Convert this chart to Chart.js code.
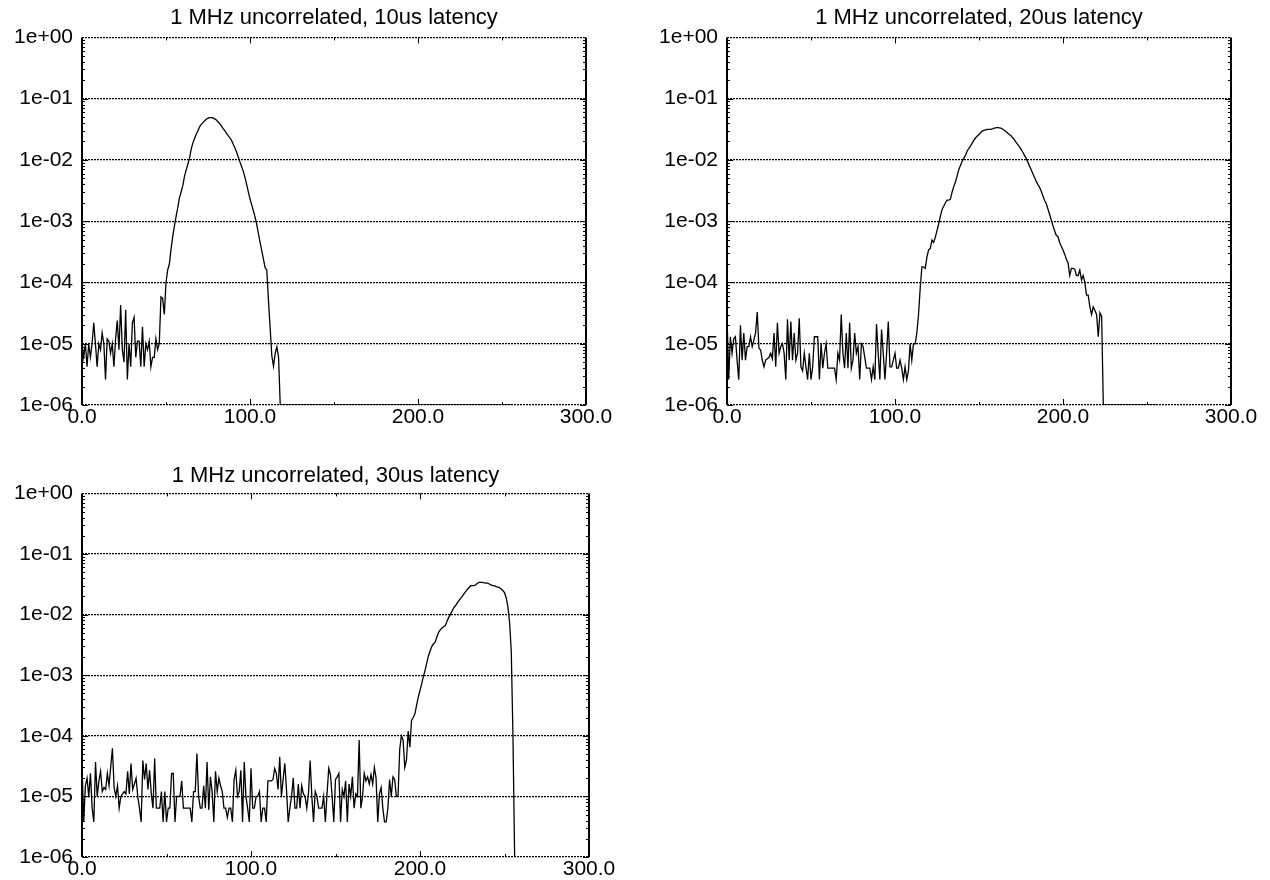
<!DOCTYPE html>
<html>
<head>
<meta charset="utf-8">
<title>1 MHz uncorrelated latency</title>
<script src="https://cdn.jsdelivr.net/npm/chart.js@4.4.1/dist/chart.umd.min.js"></script>
<style>
  html, body { margin: 0; padding: 0; background: #fff; }
  body { width: 1270px; height: 880px; position: relative; overflow: hidden; }
  canvas { position: absolute; }
</style>
</head>
<body>
<canvas id="c10" width="635" height="440" style="left:0;top:0"></canvas>
<canvas id="c20" width="635" height="440" style="left:635px;top:0"></canvas>
<canvas id="c30" width="635" height="440" style="left:0;top:440px"></canvas>
<script>
// axis ticks
const xTickValues = [0, 100, 200, 300];
const xTickLabels = ['0.0', '100.0', '200.0', '300.0'];
const yTickValues = [1e-6, 1e-5, 1e-4, 1e-3, 1e-2, 1e-1, 1];
const yTickLabels = ['1e-06', '1e-05', '1e-04', '1e-03', '1e-02', '1e-01', '1e+00'];

const titles = ['1 MHz uncorrelated, 10us latency', '1 MHz uncorrelated, 20us latency', '1 MHz uncorrelated, 30us latency'];

// histogram bins run 0..lastBin, empty bins sit on the 1e-06 floor
const lastBin = 256;
const floorValue = 1e-6;

// 10us latency, bins 0..118
const lat10 = [
  1.0e-5, 6e-6, 1.0e-5, 4.2e-6, 1.0e-5, 6e-6, 1.0e-5, 2.2e-5, 1.0e-5, 4.2e-6,
  1.0e-5, 8e-6, 1.5e-5, 1.0e-5, 2.6e-6, 1.2e-5, 1.1e-5, 7e-6, 1.0e-5, 4.2e-6,
  1.2e-5, 2.4e-5, 8e-6, 4.3e-5, 8e-6, 5e-6, 3.6e-5, 2.6e-6, 1.0e-5, 4.2e-6,
  2.2e-5, 2.7e-5, 6e-6, 1.1e-5, 1.1e-5, 4.2e-6, 1.9e-5, 4.2e-6, 1.0e-5, 8e-6,
  1.1e-5, 4.2e-6, 6e-6, 6e-6, 1.2e-5, 8e-6, 1.0e-5, 5.8e-5, 5.5e-5, 3.0e-5,
  1.0e-4, 1.6e-4, 2.0e-4, 3.5e-4, 5.6e-4, 8.3e-4, 1.2e-3, 1.66e-3, 2.4e-3, 3.0e-3,
  3.8e-3, 5.4e-3, 6.8e-3, 8.5e-3, 1.07e-2, 1.5e-2, 1.9e-2, 2.24e-2, 2.63e-2, 3.0e-2,
  3.47e-2, 3.8e-2, 4.07e-2, 4.37e-2, 4.62e-2, 4.8e-2, 4.9e-2, 4.9e-2, 4.84e-2, 4.68e-2,
  4.47e-2, 4.17e-2, 3.9e-2, 3.55e-2, 3.24e-2, 3.0e-2, 2.75e-2, 2.5e-2, 2.3e-2, 2.1e-2,
  1.8e-2, 1.58e-2, 1.35e-2, 1.12e-2, 9.3e-3, 7.8e-3, 6.5e-3, 5.2e-3, 4.0e-3, 3.0e-3,
  2.3e-3, 1.86e-3, 1.48e-3, 1.17e-3, 8.9e-4, 6.3e-4, 4.5e-4, 3.3e-4, 2.4e-4, 1.74e-4,
  1.6e-4, 5e-5, 1.8e-5, 6.3e-6, 4.3e-6, 7e-6, 8.9e-6, 6e-6, 1e-6
];

// 20us latency, bins 0..224
const lat20 = [
  3.0e-5, 2.6e-6, 1.3e-5, 7e-6, 1.2e-5, 1.3e-5, 5.4e-6, 2.6e-6, 2.0e-5, 5.4e-6,
  1.5e-5, 5.4e-6, 9e-6, 9e-6, 1.3e-5, 9e-6, 1.15e-5, 1.5e-5, 3.3e-5, 8.5e-6,
  7.9e-6, 5.4e-6, 4.2e-6, 5.4e-6, 5.7e-6, 6e-6, 7e-6, 5.7e-6, 1.5e-5, 4.2e-6,
  2.2e-5, 7e-6, 9e-6, 1.0e-5, 7e-6, 2.6e-6, 2.5e-5, 5.4e-6, 2.3e-5, 5.4e-6,
  1.5e-5, 5.4e-6, 7e-6, 2.6e-5, 4.2e-6, 3.6e-6, 7e-6, 4.2e-6, 2.6e-6, 7e-6,
  2.6e-6, 4.2e-6, 1.3e-5, 1.3e-5, 1.3e-5, 2.6e-6, 1.0e-5, 4.0e-6, 7e-6, 1.0e-5,
  4.0e-6, 4.0e-6, 4.0e-6, 4.0e-6, 4.0e-6, 2.6e-6, 7e-6, 5.4e-6, 3.0e-5, 7e-6,
  4.0e-6, 1.5e-5, 4.0e-6, 2.2e-5, 4.0e-6, 5.4e-6, 1.5e-5, 7e-6, 9e-6, 2.6e-6,
  1.0e-5, 9e-6, 6e-6, 4.0e-6, 4.0e-6, 4.0e-6, 2.6e-6, 4.2e-6, 2.6e-6, 2.1e-5,
  7e-6, 2.6e-6, 1.7e-5, 7e-6, 2.6e-6, 7e-6, 2.3e-5, 4.2e-6, 4.2e-6, 5.4e-6,
  7e-6, 4.0e-6, 4.0e-6, 5.4e-6, 4.0e-6, 2.6e-6, 4.2e-6, 2.6e-6, 3.6e-6, 1.0e-5,
  5.4e-6, 1.0e-5, 1.0e-5, 1.5e-5, 3.0e-5, 8e-5, 1.8e-4, 1.8e-4, 1.7e-4, 2.6e-4,
  3.4e-4, 3.6e-4, 4.9e-4, 4.5e-4, 5.5e-4, 7e-4, 9e-4, 1.2e-3, 1.55e-3, 1.75e-3,
  2.0e-3, 2.2e-3, 2.2e-3, 2.3e-3, 3.0e-3, 3.7e-3, 4.4e-3, 5.5e-3, 7e-3, 8.2e-3,
  9.5e-3, 1.07e-2, 1.2e-2, 1.4e-2, 1.55e-2, 1.7e-2, 1.9e-2, 2.1e-2, 2.3e-2, 2.45e-2,
  2.6e-2, 2.8e-2, 2.95e-2, 3.05e-2, 3.1e-2, 3.15e-2, 3.15e-2, 3.15e-2, 3.2e-2, 3.3e-2,
  3.35e-2, 3.4e-2, 3.35e-2, 3.3e-2, 3.2e-2, 3.05e-2, 2.9e-2, 2.75e-2, 2.6e-2, 2.5e-2,
  2.3e-2, 2.15e-2, 1.95e-2, 1.8e-2, 1.65e-2, 1.5e-2, 1.35e-2, 1.2e-2, 1.07e-2, 9.3e-3,
  8e-3, 7e-3, 6e-3, 5.2e-3, 4.5e-3, 4.0e-3, 3.6e-3, 3.1e-3, 2.6e-3, 2.2e-3,
  1.95e-3, 1.6e-3, 1.3e-3, 1.05e-3, 8.5e-4, 7e-4, 5.9e-4, 5.6e-4, 4.5e-4, 3.9e-4,
  3.4e-4, 2.9e-4, 2.4e-4, 2.1e-4, 1.3e-4, 1.7e-4, 1.7e-4, 1.65e-4, 1.3e-4, 1.3e-4,
  1.6e-4, 1.1e-4, 1.3e-4, 1.0e-4, 6.2e-5, 6.2e-5, 4e-5, 3e-5, 4e-5, 3.5e-5,
  3.0e-5, 1.3e-5, 3.2e-5, 2.8e-5, 1e-6
];

// 30us latency, bins 0..256
const lat30 = [
  3.5e-5, 3.8e-6, 1.5e-5, 2e-5, 1e-5, 2.4e-5, 6.4e-6, 3.8e-6, 3.7e-5, 1e-5,
  1.8e-5, 2.6e-5, 1.2e-5, 1.4e-5, 1.3e-5, 2.4e-5, 1.5e-5, 3.1e-5, 6.2e-5, 1.4e-5,
  1e-5, 1.5e-5, 6.4e-6, 1e-5, 1.1e-5, 1.2e-5, 1.1e-5, 2.6e-5, 1.1e-5, 3.5e-5,
  1.3e-5, 1.6e-5, 2e-5, 1e-5, 6.4e-6, 3.8e-6, 3.9e-5, 1.9e-5, 3.5e-5, 1.3e-5,
  2.7e-5, 1.1e-5, 6.4e-6, 4.2e-5, 6.4e-6, 6.4e-6, 6.4e-6, 1.2e-5, 3.8e-6, 1.2e-5,
  3.8e-6, 6.4e-6, 6.4e-6, 2.4e-5, 2.4e-5, 3.8e-6, 1e-5, 1e-5, 1e-5, 1.8e-5,
  6.4e-6, 6.4e-6, 6.4e-6, 6.4e-6, 6.4e-6, 3.8e-6, 1.2e-5, 1.2e-5, 5.1e-5, 1e-5,
  6.4e-6, 6.4e-6, 1.5e-5, 6.4e-6, 3.7e-5, 6e-6, 2.1e-5, 1.2e-5, 3.8e-6, 2.6e-5,
  1.2e-5, 2e-5, 1.5e-5, 1.2e-5, 6.4e-6, 6.4e-6, 4.5e-6, 6.4e-6, 6.4e-6, 3.8e-6,
  1.9e-5, 2.7e-5, 1e-5, 1.2e-5, 2.7e-5, 3.8e-6, 3.7e-5, 1e-5, 6.4e-6, 3.8e-6,
  2.9e-5, 6.4e-6, 6.4e-6, 1e-5, 1e-5, 1.2e-5, 3.8e-6, 6.4e-6, 6.4e-6, 3.8e-6,
  1.8e-5, 1.8e-5, 1.8e-5, 1.9e-5, 2.9e-5, 2.4e-5, 1.3e-5, 4.5e-5, 1e-5, 1.9e-5,
  3.5e-5, 1.3e-5, 3.8e-6, 6.4e-6, 1e-5, 2e-5, 6.4e-6, 6.4e-6, 1.6e-5, 6.4e-6,
  1.5e-5, 1.1e-5, 1e-5, 6.4e-6, 1.1e-5, 3.9e-5, 1e-5, 3.8e-6, 1.2e-5, 1e-5,
  6.4e-6, 6.4e-6, 6.4e-6, 1e-5, 3.8e-6, 1.1e-5, 2.9e-5, 2.3e-5, 1e-5, 3.8e-6,
  1.9e-5, 2.1e-5, 2.4e-5, 3.8e-6, 1.3e-5, 1e-5, 1.8e-5, 3.8e-6, 1.6e-5, 1e-5,
  2.1e-5, 6.4e-6, 1.1e-5, 1e-5, 8.5e-5, 6.4e-6, 1e-5, 2.4e-5, 1.8e-5, 2.1e-5,
  1.6e-5, 2.3e-5, 1.6e-5, 3e-5, 2e-5, 3.8e-6, 1.1e-5, 1.4e-5, 6.4e-6, 3.8e-6,
  3.8e-6, 6.4e-6, 1.9e-5, 1e-5, 2.1e-5, 1.9e-5, 1e-5, 1e-5, 6e-5, 1e-4,
  8.5e-5, 3e-5, 4e-5, 1.2e-4, 6.5e-5, 1.8e-4, 2.0e-4, 2.3e-4, 3.2e-4, 4.4e-4,
  5.6e-4, 7.2e-4, 9.5e-4, 1.2e-3, 1.6e-3, 2.1e-3, 2.5e-3, 3e-3, 3.3e-3, 3.5e-3,
  4.3e-3, 5.1e-3, 5.6e-3, 6e-3, 6.3e-3, 6.6e-3, 7.8e-3, 9e-3, 1.0e-2, 1.15e-2,
  1.3e-2, 1.4e-2, 1.55e-2, 1.7e-2, 1.85e-2, 2.0e-2, 2.2e-2, 2.4e-2, 2.6e-2, 2.8e-2,
  3.0e-2, 3.0e-2, 3.0e-2, 3.1e-2, 3.3e-2, 3.4e-2, 3.4e-2, 3.4e-2, 3.35e-2, 3.3e-2,
  3.3e-2, 3.2e-2, 3.1e-2, 3.0e-2, 3.0e-2, 2.9e-2, 2.85e-2, 2.8e-2, 2.65e-2, 2.5e-2,
  2.3e-2, 1.9e-2, 1.35e-2, 7.5e-3, 2.5e-3, 1e-4, 1e-6
];

const fontFamily = "'Liberation Sans', Arial, Helvetica, sans-serif";

// inward tick marks on all four sides plus the solid right-hand axis
const frameTicks = {
  id: 'frameTicks',
  afterDraw(chart) {
    const {ctx, chartArea: a, scales: {x, y}} = chart;
    ctx.save();
    ctx.strokeStyle = '#000';
    ctx.lineWidth = 2;
    ctx.beginPath();
    ctx.moveTo(a.left, a.top);
    ctx.lineTo(a.left, a.bottom);
    ctx.moveTo(a.right, a.top);
    ctx.lineTo(a.right, a.bottom);
    ctx.stroke();
    ctx.lineWidth = 1;
    ctx.beginPath();
    for (let e = -6; e < 0; e++) {
      for (let k = 1; k < 10; k++) {
        const py = Math.round(y.getPixelForValue(k * Math.pow(10, e))) + 0.5;
        const len = k === 1 ? 6 : 3;
        ctx.moveTo(a.left, py); ctx.lineTo(a.left + len, py);
        ctx.moveTo(a.right, py); ctx.lineTo(a.right - len, py);
      }
    }
    for (let v = 50; v < 300; v += 50) {
      const px = Math.round(x.getPixelForValue(v)) + 0.5;
      const len = v % 100 === 0 ? 6 : 3;
      ctx.moveTo(px, a.top); ctx.lineTo(px, a.top + len);
      ctx.moveTo(px, a.bottom); ctx.lineTo(px, a.bottom - len);
    }
    ctx.stroke();
    ctx.restore();
  }
};

function makeChart(id, title, values, box) {
  const pts = values.map((v, i) => ({x: i, y: v}));
  if (values.length - 1 < lastBin) pts.push({x: lastBin, y: floorValue});

  return new Chart(document.getElementById(id), {
    type: 'line',
    data: {
      datasets: [{
        data: pts,
        borderColor: '#000',
        borderWidth: 1.3,
        pointRadius: 0,
        tension: 0,
        fill: false
      }]
    },
    options: {
      responsive: false,
      animation: false,
      devicePixelRatio: 1,
      layout: { padding: { left: 0, right: box.padRight, top: 0, bottom: 0 } },
      plugins: {
        legend: { display: false },
        tooltip: { enabled: false },
        title: {
          display: true,
          text: title,
          fullSize: false,
          color: '#000',
          font: { family: fontFamily, size: 22, weight: 'normal', lineHeight: 1.2 },
          padding: { top: box.titleTop, bottom: box.titleBottom }
        }
      },
      scales: {
        x: {
          type: 'linear',
          min: 0,
          max: 300,
          afterBuildTicks: s => { s.ticks = xTickValues.map(v => ({value: v})); },
          afterFit: s => { s.height = box.xH; },
          ticks: {
            callback: (v, i) => xTickLabels[i],
            color: '#000',
            font: { family: fontFamily, size: 21 },
            padding: -8,
            maxRotation: 0,
            autoSkip: false
          },
          grid: { display: false },
          border: { display: false }
        },
        y: {
          type: 'logarithmic',
          min: 1e-6,
          max: 1,
          afterBuildTicks: s => { s.ticks = yTickValues.map(v => ({value: v})); },
          afterFit: s => { s.width = box.axisW; },
          ticks: {
            callback: (v, i) => yTickLabels[i],
            color: '#000',
            font: { family: fontFamily, size: 21 },
            padding: 9,
            autoSkip: false
          },
          grid: { color: '#000', lineWidth: 1.3, drawTicks: false },
          border: { display: false, dash: [2, 1] }
        }
      }
    },
    plugins: [frameTicks]
  });
}

makeChart('c10', titles[0], lat10, { axisW: 82, padRight: 49, xH: 35, titleTop: 5, titleBottom: 6 });
makeChart('c20', titles[1], lat20, { axisW: 92, padRight: 39, xH: 35, titleTop: 5, titleBottom: 6 });
makeChart('c30', titles[2], lat30, { axisW: 82, padRight: 46, xH: 23, titleTop: 23, titleBottom: 4 });
</script>
</body>
</html>
